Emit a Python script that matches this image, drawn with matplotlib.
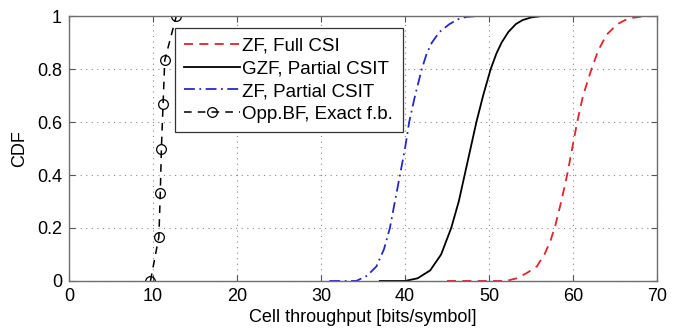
import matplotlib
matplotlib.use("Agg")
import matplotlib.pyplot as plt

# values (x = throughput, y = CDF level)
zf_full_x = [45, 52, 53.3, 54.5, 55.7, 56.6, 57.3, 57.9, 58.6, 59.3, 59.9, 60.5, 61.2, 62.2, 63.0, 64.0, 65.3, 66.2, 67.2, 68.3, 69.5, 70]
zf_full_y = [0, 0, 0.01, 0.03, 0.055, 0.10, 0.15, 0.21, 0.30, 0.40, 0.50, 0.60, 0.70, 0.80, 0.87, 0.93, 0.97, 0.985, 0.994, 0.999, 1.0, 1.0]

gzf_x = [37, 40, 41.5, 43.0, 44.3, 45.5, 46.4, 47.1, 47.8, 48.5, 49.3, 50.2, 50.9, 51.5, 52.3, 53.2, 54.0, 55.0, 56.2, 57]
gzf_y = [0, 0, 0.01, 0.04, 0.10, 0.20, 0.30, 0.40, 0.50, 0.60, 0.70, 0.80, 0.86, 0.90, 0.94, 0.97, 0.985, 0.995, 1.0, 1.0]

zf_part_x = [31, 34.2, 35.5, 36.6, 37.5, 38.2, 38.8, 39.4, 40.0, 40.5, 41.2, 42.0, 42.6, 43.2, 44.1, 45.3, 46.3, 47.3, 48.5]
zf_part_y = [0, 0, 0.02, 0.055, 0.12, 0.20, 0.30, 0.40, 0.50, 0.60, 0.70, 0.80, 0.86, 0.90, 0.94, 0.97, 0.988, 0.997, 1.0]

opp_x = [9.7, 10.7, 10.87, 11.0, 11.2, 11.4, 12.77]
opp_y = [0, 1/6, 2/6, 3/6, 4/6, 5/6, 1]

labels = ['ZF, Full CSI', 'GZF, Partial CSIT', 'ZF, Partial CSIT', 'Opp.BF, Exact f.b.']

plt.rcParams['font.family'] = ['Liberation Sans', 'DejaVu Sans']

fig = plt.figure(figsize=(6.79, 3.29), dpi=100)
ax = fig.add_axes([0.1016, 0.146, 0.8660, 0.805])

ax.plot(zf_full_x, zf_full_y, color='#e0242a', linestyle=(0, (5, 3.5)), linewidth=1.3, label=labels[0])
ax.plot(gzf_x, gzf_y, color='black', linestyle='-', linewidth=1.3, label=labels[1])
ax.plot(zf_part_x, zf_part_y, color='#2828c8', linestyle=(0, (6, 2.5, 1, 2.5)), linewidth=1.3, label=labels[2])
ax.plot(opp_x, opp_y, color='black', linestyle=(0, (5, 4)), linewidth=1.1, marker='o',
        markersize=7, markerfacecolor='none', markeredgecolor='black', markeredgewidth=0.9,
        label=labels[3])

ax.set_xlim(0, 70)
ax.set_ylim(0, 1)
ax.set_xticks(range(0, 71, 10))
ax.set_yticks([0, 0.2, 0.4, 0.6, 0.8, 1])
ax.set_yticklabels(['0', '0.2', '0.4', '0.6', '0.8', '1'])
ax.tick_params(direction='in', top=True, right=True, labelsize=13, length=4, color='#555555', pad=5)
ax.grid(True, linestyle=(0, (1, 4)), color='#888888', linewidth=0.8)
for s in ax.spines.values():
    s.set_color('#6e6e6e')
    s.set_linewidth(1.0)

ax.set_xlabel('Cell throughput [bits/symbol]', fontsize=13, labelpad=3)
ax.set_ylabel('CDF', fontsize=13, labelpad=6)

leg = ax.legend(loc='upper left', bbox_to_anchor=(0.18, 0.955), fontsize=13.5, frameon=True,
                fancybox=False, edgecolor='#333333', framealpha=1, handlelength=3.0,
                handletextpad=0.1, labelspacing=0.3, borderpad=0.5, borderaxespad=0)
leg.get_frame().set_linewidth(0.9)

fig.savefig('out.png', dpi=100)
